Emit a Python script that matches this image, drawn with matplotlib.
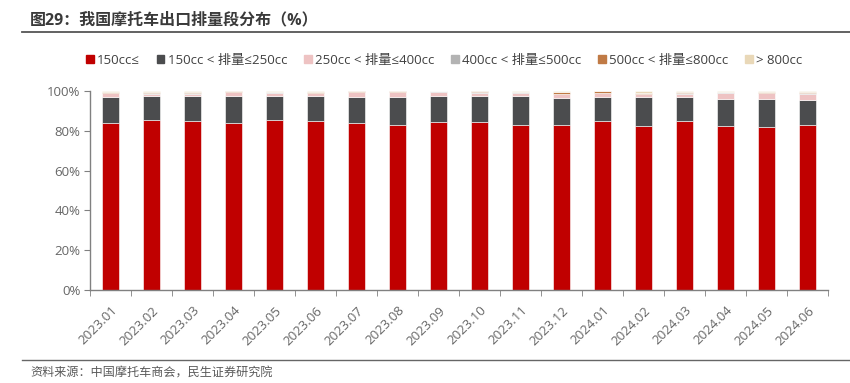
import matplotlib
matplotlib.use("Agg")
import matplotlib.pyplot as plt
import numpy as np
from matplotlib.lines import Line2D

plt.rcParams['font.family'] = ['Open Sans', 'Noto Sans CJK SC', 'DejaVu Sans']

# months on the x axis
months = ["2023.01", "2023.02", "2023.03", "2023.04", "2023.05", "2023.06",
          "2023.07", "2023.08", "2023.09", "2023.10", "2023.11", "2023.12",
          "2024.01", "2024.02", "2024.03", "2024.04", "2024.05", "2024.06"]

# share of exports by displacement band (%)
cc_0_150 = [84.1, 85.6, 84.7, 83.7, 85.6, 84.9, 84.0, 82.8, 84.2,
            84.6, 83.1, 82.7, 85.1, 82.4, 84.8, 82.6, 82.1, 82.9]
cc_150_250 = [12.7, 11.7, 12.6, 13.6, 11.9, 12.7, 12.8, 14.4, 13.3,
              13.1, 14.6, 13.9, 12.1, 14.6, 12.2, 13.3, 13.8, 12.6]
cc_250_400 = [2.0, 1.2, 1.2, 2.3, 1.3, 1.2, 2.6, 2.3, 2.2,
              1.5, 1.2, 1.8, 1.6, 1.3, 1.5, 3.3, 3.1, 2.8]
cc_400_500 = [0.3, 0.6, 0.5, 0.1, 0.5, 0.3, 0.1, 0.1, 0.1,
              0.4, 0.5, 0.3, 0.2, 0.4, 0.6, 0.1, 0.2, 0.8]
cc_500_800 = [0.6, 0.3, 0.4, 0.1, 0.3, 0.6, 0.3, 0.2, 0.1,
              0.2, 0.3, 1.0, 0.8, 0.3, 0.2, 0.3, 0.3, 0.3]
cc_800_up = [0.3, 0.6, 0.6, 0.2, 0.4, 0.3, 0.2, 0.2, 0.1,
             0.2, 0.3, 0.3, 0.2, 1.0, 0.7, 0.4, 0.5, 0.6]

series = [cc_0_150, cc_150_250, cc_250_400, cc_400_500, cc_500_800, cc_800_up]
labels = ["150cc≤", "150cc < 排量≤250cc", "250cc < 排量≤400cc",
          "400cc < 排量≤500cc", "500cc < 排量≤800cc", "> 800cc"]
colors = ["#C00000", "#4B4C4E", "#EEC3C3", "#B3B3B3", "#C07A45", "#E9D8B8"]

fig = plt.figure(figsize=(8.5, 3.83), dpi=100)
ax = fig.add_axes([90 / 850, 1 - 290 / 383, (828 - 90) / 850, (290 - 91) / 383])

x = np.arange(len(months))
bottom = np.zeros(len(months))
for vals, lab, col in zip(series, labels, colors):
    ax.bar(x, vals, width=0.4, bottom=bottom, color=col, label=lab,
           edgecolor="white", linewidth=0.4)
    bottom += np.array(vals)

ax.set_xlim(-0.5, len(months) - 0.5)
ax.set_ylim(0, 100)
ax.set_yticks(np.arange(0, 101, 20))
ax.set_yticklabels([f"{v}%" for v in range(0, 101, 20)])
ax.set_xticks(x)
ax.set_xticklabels(months, rotation=45, ha="right", rotation_mode="anchor")
ax.set_xticks(np.arange(-0.5, len(months)), minor=True)
ax.tick_params(axis="x", which="major", length=0, pad=10, labelsize=9.5, labelcolor="#666666")
ax.tick_params(axis="x", which="minor", length=4, color="#808080", direction="out")
ax.tick_params(axis="y", length=4, color="#808080", labelsize=9.5, labelcolor="#666666", pad=3)
for s in ["top", "right"]:
    ax.spines[s].set_visible(False)
for s in ["left", "bottom"]:
    ax.spines[s].set_color("#808080")
    ax.spines[s].set_linewidth(1)

# legend across the top
handles = [plt.Rectangle((0, 0), 1, 1, color=c) for c in colors]
fig.legend(handles, labels, loc="center", bbox_to_anchor=(444 / 850, 1 - 60 / 383),
           ncol=6, frameon=False, fontsize=9.5, handlelength=0.6, handleheight=0.6,
           handletextpad=0.25, columnspacing=1.25, labelcolor="#404040")

# title and footer
fig.text(30 / 850, 1 - 20 / 383, "图29：我国摩托车出口排量段分布（%）", fontsize=11.5,
         fontweight="bold", color="#3A3A3A", va="center", ha="left")
fig.add_artist(Line2D([22 / 850, 1], [1 - 32 / 383, 1 - 32 / 383], color="#555555", linewidth=1.3))
fig.add_artist(Line2D([22 / 850, 1], [1 - 360 / 383, 1 - 360 / 383], color="#666666", linewidth=1))
fig.text(30 / 850, 1 - 373 / 383, "资料来源：中国摩托车商会，民生证券研究院", fontsize=8.7,
         color="#595959", va="center", ha="left")

fig.savefig("out.png", dpi=100)
